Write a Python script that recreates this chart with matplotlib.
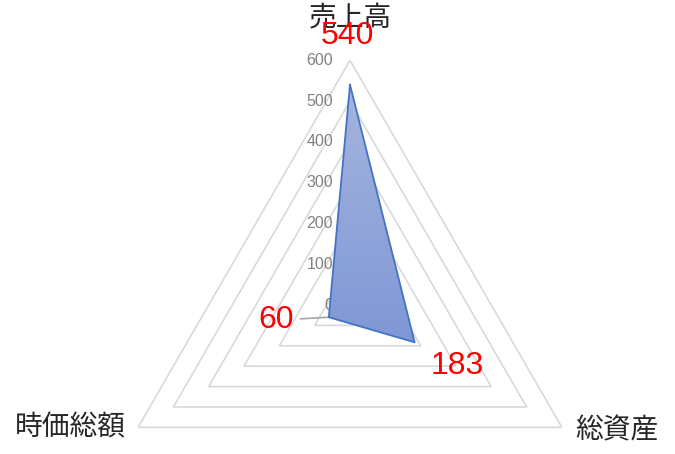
import numpy as np
import matplotlib
matplotlib.use("Agg")
import matplotlib.pyplot as plt

# data
categories = ["売上高", "総資産", "時価総額"]
values = [540, 183, 60]
ring_levels = [100, 200, 300, 400, 500, 600]
tick_levels = [0, 100, 200, 300, 400, 500, 600]

jp_font = ["Noto Sans CJK JP", "DejaVu Sans"]
num_font = ["Liberation Sans", "DejaVu Sans"]

fig = plt.figure(figsize=(6.75, 4.54), dpi=100)
W, H = 675, 454
cx, cy, R = 350, 305, 244.7   # centre and radius in pixels (from top)
ax = fig.add_axes([(cx - R) / W, (H - cy - R) / H, 2 * R / W, 2 * R / H],
                  projection="polar")
ax.set_theta_zero_location("N")
ax.set_theta_direction(-1)
ax.set_ylim(0, 600)
ax.grid(False)
ax.set_xticks([])
ax.set_yticks([])
ax.spines["polar"].set_visible(False)
ax.patch.set_alpha(0)

theta = np.deg2rad([0, 120, 240])
th_closed = np.append(theta, theta[0])

# triangular rings
for lv in ring_levels:
    ax.plot(th_closed, [lv] * 4, color="#d9d9d9", lw=1.2, zorder=1)

# tick labels along the top axis
for lv in tick_levels:
    ax.annotate(str(lv), xy=(0, lv), xytext=(-17, 0), textcoords="offset pixels",
                ha="right", va="center", fontsize=11.5, color="#808080",
                family=num_font)

# filled series
vals_closed = values + [values[0]]
poly = ax.fill(theta, values, facecolor="#8fa3d9", edgecolor="none", zorder=2)[0]

# gradient overlay clipped to the polygon
gax = fig.add_axes([0, 0, 1, 1], zorder=5)
gax.set_xlim(0, 1)
gax.set_ylim(0, 1)
gax.axis("off")
gax.patch.set_alpha(0)
fig.canvas.draw()
pts = ax.transData.transform(np.column_stack([theta, values]))
fx = pts[:, 0] / W
fy = pts[:, 1] / H
grad = np.linspace(0, 1, 256).reshape(-1, 1)
top_c = np.array([165, 181, 221]) / 255
bot_c = np.array([127, 151, 214]) / 255
img = top_c * (1 - grad[..., None]) + bot_c * grad[..., None]
im = gax.imshow(img, extent=[fx.min(), fx.max(), fy.min(), fy.max()],
                origin="upper", aspect="auto", zorder=1)
im.set_clip_path(poly)
gax.set_xlim(0, 1)
gax.set_ylim(0, 1)
gax.plot(th_closed, vals_closed, color="#4472c4", lw=1.3, transform=ax.transData,
         zorder=2, clip_on=False)

# category labels
cat_offsets = [(0, 42), (55, -3), (-68, 0)]
for t, name, off in zip(theta, categories, cat_offsets):
    ax.annotate(name, xy=(t, 600), xytext=off, textcoords="offset pixels",
                ha="center", va="center", fontsize=20, color="#262626",
                family=jp_font, annotation_clip=False)

# data labels
lab_offsets = [(-3, 49), (43, -24), (-53, -3)]
for i, (t, v, off) in enumerate(zip(theta, values, lab_offsets)):
    kw = {}
    if i == 2:
        kw["arrowprops"] = dict(arrowstyle="-", color="#a6a6a6", lw=1.2,
                                shrinkA=3, shrinkB=0)
    ax.annotate(str(v), xy=(t, v), xytext=off, textcoords="offset pixels",
                ha="center", va="center", fontsize=23, color="#ff0000",
                family=num_font, annotation_clip=False, zorder=6, **kw)

fig.savefig("out.png", dpi=100)
